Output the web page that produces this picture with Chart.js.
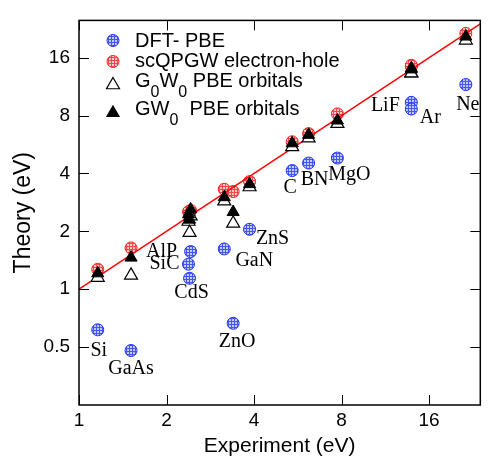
<!DOCTYPE html>
<html>
<head>
<meta charset="utf-8">
<script src="https://cdn.jsdelivr.net/npm/chart.js@4/dist/chart.umd.min.js"></script>
<style>
  html, body { margin: 0; padding: 0; background: #fff; }
  #wrap { width: 489px; height: 461px; }
</style>
</head>
<body>
<div id="wrap"><canvas id="chart" width="489" height="461"></canvas></div>
<script>
// ==================== DATA ====================
const materials  = ['Si', 'GaAs', 'AlP', 'SiC', 'CdS', 'GaN', 'ZnO', 'ZnS', 'C', 'BN', 'MgO', 'LiF', 'Ar', 'Ne'];
const experiment = [1.16, 1.51, 2.42, 2.38, 2.40, 3.16, 3.39, 3.86, 5.41, 6.16, 7.74, 13.9, 13.9, 21.4];
const dftPbe     = [0.615, 0.48, 1.57, 1.35, 1.14, 1.62, 0.665, 2.05, 4.14, 4.53, 4.81, 9.37, 8.65, 11.6];
const scQpgw     = [1.27, 1.64, 2.57, 2.53, 2.47, 3.31, 3.22, 3.63, 5.85, 6.45, 8.16, 14.4, 14.6, 21.4];
const gw0        = [1.21, 1.46, 2.60, 2.45, 2.30, 3.01, 2.52, 3.52, 5.74, 6.35, 7.54, 14.1, 13.9, 20.6];
const g0w0       = [1.15, 1.18, 2.40, 2.25, 1.97, 2.87, 2.20, 3.40, 5.50, 6.10, 7.26, 13.3, 13.3, 19.7];
const diagonal   = [1, 24];
const xTicks = [1, 2, 4, 8, 16];
const yTicks = [0.5, 1, 2, 4, 8, 16];

// label placement relative to the DFT point (px)
const labelOffsets = {
    Si: [1, 21], GaAs: [0, 18], AlP: [-29, 0], SiC: [-24, 0], CdS: [2, 14],
    GaN: [30, 12], ZnO: [4, 18], ZnS: [23, 9], C: [-2, 17], BN: [6, 17],
    MgO: [12, 17], LiF: [-26, 3], Ar: [19, 9], Ne: [2, 20]
};

const SANS = '"Liberation Sans", Arial, Helvetica, sans-serif';
const SERIF = '"Liberation Serif", "Times New Roman", serif';

// ==================== PATTERNS ====================
function hatch(bg, fg) {
    const c = document.createElement('canvas');
    c.width = 3; c.height = 3;
    const g = c.getContext('2d');
    g.fillStyle = bg; g.fillRect(0, 0, 3, 3);
    g.fillStyle = fg; g.fillRect(0, 0, 3, 1); g.fillRect(0, 0, 1, 3);
    return g.createPattern(c, 'repeat');
}
const bluePat = hatch('#c3caff', '#4557f2');
const redPat = hatch('#ffcaca', '#f04a4a');

const pts = ys => experiment.map((x, i) => ({ x: x, y: ys[i] }));

// ==================== DRAW HELPERS ====================
function circle(ctx, x, y, r, fill, stroke) {
    ctx.beginPath(); ctx.arc(x, y, r, 0, Math.PI * 2);
    ctx.fillStyle = fill; ctx.fill();
    ctx.lineWidth = 1; ctx.strokeStyle = stroke; ctx.stroke();
}
function tri(ctx, x, y, r, fill) {
    ctx.beginPath();
    ctx.moveTo(x, y - r);
    ctx.lineTo(x + r * 0.866, y + r * 0.5);
    ctx.lineTo(x - r * 0.866, y + r * 0.5);
    ctx.closePath();
    ctx.fillStyle = fill; ctx.fill();
    ctx.lineWidth = 1.2; ctx.strokeStyle = '#000'; ctx.stroke();
}
// text with subscripts: parts = [[text, isSub], ...]
function richText(ctx, parts, x, y) {
    parts.forEach(p => {
        ctx.font = p[1] ? '16px ' + SANS : '20px ' + SANS;
        ctx.fillText(p[0], x, p[1] ? y + 10 : y);
        x += ctx.measureText(p[0]).width;
    });
}

const decor = {
    id: 'decor',
    afterDraw(chart) {
        const { ctx, chartArea: a, scales: { x, y } } = chart;
        ctx.save();
        // frame
        ctx.strokeStyle = '#000';
        ctx.lineWidth = 1.5;
        ctx.strokeRect(a.left, a.top, a.right - a.left, a.bottom - a.top);
        // inward ticks on all four sides
        ctx.lineWidth = 1;
        ctx.beginPath();
        xTicks.forEach(v => {
            const px = Math.round(x.getPixelForValue(v)) + 0.5;
            ctx.moveTo(px, a.bottom); ctx.lineTo(px, a.bottom - 10);
            ctx.moveTo(px, a.top); ctx.lineTo(px, a.top + 10);
        });
        yTicks.forEach(v => {
            const py = Math.round(y.getPixelForValue(v)) + 0.5;
            ctx.moveTo(a.left, py); ctx.lineTo(a.left + 10, py);
            ctx.moveTo(a.right, py); ctx.lineTo(a.right - 10, py);
        });
        ctx.stroke();

        // material labels
        ctx.fillStyle = '#000';
        ctx.font = '20px ' + SERIF;
        ctx.textAlign = 'center';
        ctx.textBaseline = 'middle';
        materials.forEach((m, i) => {
            const o = labelOffsets[m];
            ctx.fillText(m, x.getPixelForValue(experiment[i]) + o[0], y.getPixelForValue(dftPbe[i]) + o[1]);
        });

        // legend
        const mx = 113, tx = 135;
        circle(ctx, mx, 40.5, 6, bluePat, '#2233ff');
        circle(ctx, mx, 61.5, 6, redPat, '#ff2222');
        tri(ctx, mx, 85, 7.5, '#fff');
        tri(ctx, mx, 113, 7, '#000');
        ctx.fillStyle = '#000';
        ctx.textAlign = 'left';
        ctx.textBaseline = 'alphabetic';
        richText(ctx, [['DFT- PBE', false]], tx, 47);
        richText(ctx, [['scQPGW electron-hole', false]], tx, 67);
        richText(ctx, [['G', false], ['0', true], ['W', false], ['0', true], [' PBE orbitals', false]], tx, 87);
        richText(ctx, [['GW', false], ['0', true], ['  PBE orbitals', false]], tx, 115);
        ctx.restore();
    }
};

// ==================== CHART ====================
const tickFont = { family: SANS, size: 19 };

new Chart(document.getElementById('chart'), {
    type: 'scatter',
    data: {
        datasets: [
            {
                label: 'GW0 PBE orbitals', data: pts(gw0), order: 0,
                pointStyle: 'triangle', pointRadius: 7, backgroundColor: '#000',
                borderColor: '#000', borderWidth: 1
            },
            {
                label: 'G0W0 PBE orbitals', data: pts(g0w0), order: 1,
                pointStyle: 'triangle', pointRadius: 7.5, backgroundColor: '#fff',
                borderColor: '#000', borderWidth: 1.2
            },
            {
                label: 'y = x', type: 'line', order: 2,
                data: diagonal.map(v => ({ x: v, y: v })),
                borderColor: '#ff0000', borderWidth: 1.5, pointRadius: 0, fill: false
            },
            {
                label: 'scQPGW electron-hole', data: pts(scQpgw), order: 3,
                pointStyle: 'circle', pointRadius: 6, backgroundColor: redPat,
                borderColor: '#ff2222', borderWidth: 1
            },
            {
                label: 'DFT- PBE', data: pts(dftPbe), order: 4,
                pointStyle: 'circle', pointRadius: 6, backgroundColor: bluePat,
                borderColor: '#2233ff', borderWidth: 1
            }
        ]
    },
    options: {
        responsive: false,
        animation: false,
        layout: { padding: { top: 13, right: 1, left: 0, bottom: 0 } },
        plugins: {
            legend: { display: false },
            tooltip: { enabled: false }
        },
        scales: {
            x: {
                type: 'logarithmic', min: 1, max: 24,
                afterBuildTicks: s => { s.ticks = xTicks.map(v => ({ value: v })); },
                afterFit: s => { s.height = 56; },
                ticks: { callback: v => String(v), autoSkip: false, maxRotation: 0, padding: 4, color: '#000', font: tickFont },
                grid: { display: false, drawTicks: false },
                border: { display: false },
                title: { display: true, text: 'Experiment (eV)', color: '#000', font: { family: SANS, size: 21 }, padding: { top: 0, bottom: 2 } }
            },
            y: {
                type: 'logarithmic', min: 0.25, max: 25,
                afterBuildTicks: s => { s.ticks = yTicks.map(v => ({ value: v })); },
                afterFit: s => { s.width = 79; },
                ticks: { callback: v => String(v), autoSkip: false, padding: 9, color: '#000', font: tickFont },
                grid: { display: false, drawTicks: false },
                border: { display: false },
                title: { display: true, text: 'Theory (eV)', color: '#000', font: { family: SANS, size: 23 }, padding: { top: 10, bottom: 0 } }
            }
        }
    },
    plugins: [decor]
});
</script>
</body>
</html>
